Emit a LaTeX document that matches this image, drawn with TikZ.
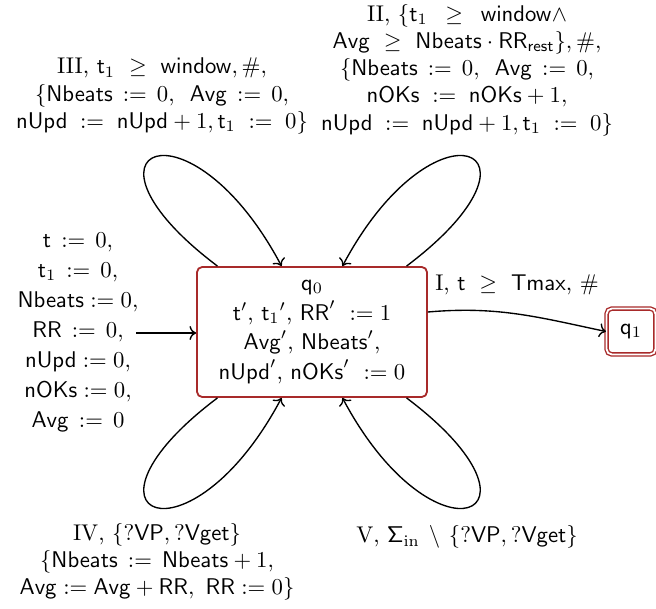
\documentclass[tikz,border=0pt]{standalone}
\usetikzlibrary{arrows.meta}
\definecolor{boxred}{RGB}{168,42,42}
\begin{document}
\begin{tikzpicture}[x=0.44pt,y=-0.44pt,
  statebox/.style={draw=boxred, thick, rounded corners=2.3pt, align=center, inner sep=0pt},
  lab/.style={align=center, inner sep=0pt},
  edge/.style={->, semithick}]
\useasboundingbox (0,0) rectangle (656,608);
% states
\node[statebox, minimum width=101.2pt, minimum height=57.2pt] (q0) at (312,332)
  {$\mathsf{q}_0$\\[1pt]
   $\mathsf{t}'$, ${\mathsf{t}_1}'$, $\mathsf{RR}'\ :=1$\\[1pt]
   $\mathsf{Avg}'$, $\mathsf{Nbeats}'$,\\[1pt]
   $\mathsf{nUpd}'$, $\mathsf{nOKs}'\ :=0$};
\node[statebox, double=white, double distance=0.8pt, line width=0.6pt, minimum width=21.5pt, minimum height=20.2pt] (q1) at (631,331.5) {$\mathsf{q}_1$};
% initial
\node[lab] (init) at (78,332)
  {$\mathsf{t}\,:=\,0,$\\[1.2pt]
   $\mathsf{t}_1\,:=\,0,$\\[1.2pt]
   $\mathsf{Nbeats}:=0,$\\[1.2pt]
   $\mathsf{RR}\,:=\,0,$\\[1.2pt]
   $\mathsf{nUpd}:=0,$\\[1.2pt]
   $\mathsf{nOKs}:=0,$\\[1.2pt]
   $\mathsf{Avg}\,:=\,0$};
\coordinate (istart) at (136,333);
\draw[edge] (istart) -- (q0.west |- istart);
% anchor points on box
\coordinate (a1) at ([xshift=-41.6pt]q0.north);
\coordinate (a2) at ([xshift=-13.4pt]q0.north);
\coordinate (b1) at ([xshift=13.4pt]q0.north);
\coordinate (b2) at ([xshift=41.6pt]q0.north);
\coordinate (c1) at ([xshift=-41.6pt]q0.south);
\coordinate (c2) at ([xshift=-13.4pt]q0.south);
\coordinate (d1) at ([xshift=13.4pt]q0.south);
\coordinate (d2) at ([xshift=41.6pt]q0.south);
% loops
\draw[edge] (a1) .. controls +(143:86.5pt) and +(118:86.5pt) .. (a2);
\draw[edge] (b2) .. controls +(37:86.5pt) and +(62:86.5pt) .. (b1);
\draw[edge] (c1) .. controls +(-143:86.5pt) and +(-118:86.5pt) .. (c2);
\draw[edge] (d2) .. controls +(-37:86.5pt) and +(-62:86.5pt) .. (d1);
% transition to q1
\draw[edge] ([yshift=8.8pt]q0.east) to[out=5,in=168] (q1.west);
% labels
\node[lab] (l3) at (162,96)
  {III, $\mathsf{t}_1\ \geq\ \mathsf{window},\#,$\\
   $\{\mathsf{Nbeats}\,:=\,0,\ \,\mathsf{Avg}\,:=\,0,$\\
   $\mathsf{nUpd}\;:=\;\mathsf{nUpd}+1,\mathsf{t}_1\;:=\;0\}$};
\node[lab] (l2) at (467,70)
  {II, $\{\mathsf{t}_1\ \,\geq\ \,\mathsf{window}\wedge$\\
   $\mathsf{Avg}\ \geq\ \mathsf{Nbeats}\cdot\mathsf{RR}_{\mathsf{rest}}\},\#,$\\
   $\{\mathsf{Nbeats}\,:=\,0,\ \,\mathsf{Avg}\,:=\,0,$\\
   $\mathsf{nOKs}\;:=\;\mathsf{nOKs}+1,$\\
   $\mathsf{nUpd}\;:=\;\mathsf{nUpd}+1,\mathsf{t}_1\;:=\;0\}$};
\node[lab] (l1) at (517,285) {I, $\mathsf{t}\ \geq\ \mathsf{Tmax}$, $\#$};
\node[lab] (l4) at (157,562)
  {IV, $\{?\mathsf{VP},?\mathsf{Vget}\}$\\
   $\{\mathsf{Nbeats}\,:=\,\mathsf{Nbeats}+1,$\\
   $\mathsf{Avg}:=\mathsf{Avg}+\mathsf{RR},\ \mathsf{RR}:=0\}$};
\node[lab] (l5) at (467,537) {V, $\mathsf{\Sigma}_{\mathrm{in}}\,\setminus\,\{?\mathsf{VP},?\mathsf{Vget}\}$};
\end{tikzpicture}
\end{document}
